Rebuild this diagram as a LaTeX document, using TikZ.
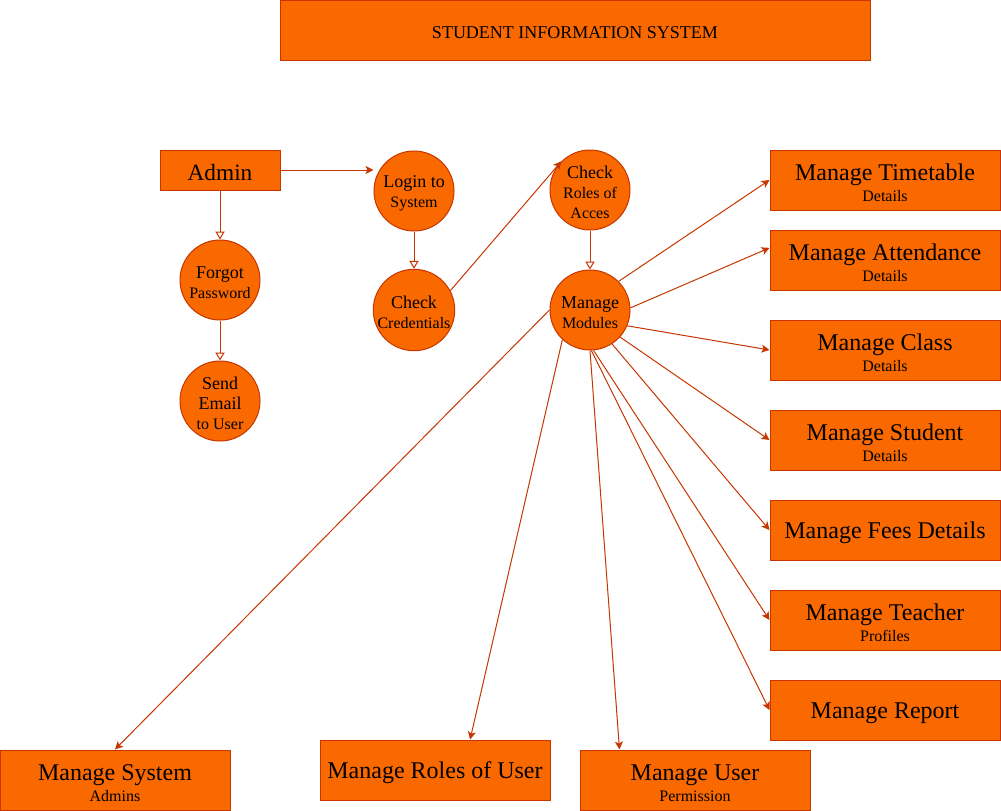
\documentclass[tikz,border=0pt]{standalone}
\usepackage{fontspec}
\setmainfont{Liberation Serif}
\usepackage{tikz}
\usetikzlibrary{arrows.meta}
\definecolor{boxfill}{HTML}{FA6800}
\definecolor{boxline}{HTML}{C73500}
\newcommand{\bigtxt}{\fontsize{18}{15.75}\selectfont}
\newcommand{\subtxt}{\fontsize{12}{14}\selectfont}
\newcommand{\circtxt}{\fontsize{13.5}{15}\selectfont}
\newcommand{\tstrut}{\rule{0pt}{0.92em}}

\begin{document}
\begin{tikzpicture}[x=0.75pt, y=-0.75pt,
    box/.style={draw=boxline, fill=boxfill, line width=0.75pt, inner sep=0pt, align=center},
    mbox/.style={box, minimum width=172.5pt, minimum height=45pt, font=\bigtxt},
    proc/.style={circle, draw=boxline, fill=boxfill, line width=0.75pt, minimum size=60pt, inner sep=0pt, align=center, font=\circtxt},
    edge/.style={draw=boxline, line width=0.75pt, -{Stealth[length=6pt, width=6pt, inset=1.5pt]}},
    openedge/.style={draw=boxline, line width=0.75pt, -{Triangle[open, fill=white, length=6pt, width=7pt]}}]
    \useasboundingbox (0,0) rectangle (1001,811);

    % Title
    \node[box, minimum width=442.5pt, minimum height=45pt, font=\fontsize{13.5}{15}\selectfont] (title) at (575,30) {\tstrut STUDENT INFORMATION SYSTEM};

    % Admin and login steps
    \node[box, minimum width=90pt, minimum height=30pt, font=\fontsize{17.5}{18}\selectfont] (admin) at (220,170) {\tstrut Admin};
    \node[proc] (login) at (414,191) {\tstrut Login to\\{\subtxt System}};
    \node[proc] (cred) at (414,310) {\tstrut Check\\{\subtxt Credentials}};
    \node[proc] (forgot) at (220,280) {\tstrut Forgot\\{\subtxt Password}};
    \node[proc] (send) at (220,401) {\tstrut Send\\Email\\{\subtxt to User}};
    \node[proc] (roles) at (590,190) {\tstrut Check\\{\subtxt Roles of}\\{\subtxt Acces}};
    \node[proc] (mm) at (590,310) {\tstrut Manage\\{\subtxt Modules}};

    % Module boxes on the right
    \foreach \nm/\y/\a/\b in {tt/180/Manage Timetable/Details, att/260/Manage Attendance/Details,
                              cls/350/Manage Class/Details, stu/440/Manage Student/Details,
                              tch/620/Manage Teacher/Profiles} {
        \node[mbox] (\nm) at (885,\y) {\tstrut\a\\{\subtxt \b}};
    }
    \node[mbox] (fees) at (885,530) {\tstrut Manage Fees Details};
    \node[mbox] (rep) at (885,710) {\tstrut Manage Report};

    % Module boxes at the bottom
    \node[mbox] (msys) at (115,780) {\tstrut Manage System\\{\subtxt Admins}};
    \node[mbox] (ruser) at (435,770) {\tstrut Manage Roles of User};
    \node[mbox] (muser) at (695,780) {\tstrut Manage User\\{\subtxt Permission}};

    % Connectors
    \draw[edge] (admin.east) -- (login.west |- admin.east);
    \draw[openedge] (admin) -- (forgot);
    \draw[openedge] (forgot) -- (send);
    \draw[openedge] (login) -- (cred);
    \draw[edge] (cred.28) -- (roles.135);
    \draw[openedge] (roles) -- (mm);
    \foreach \s/\t in {45/tt.west, 3/att.174, -23/cls.west, -42/stu.west, -57/fees.west,
                       -85/tch.west, -88/rep.west, -90/muser.158, 227/ruser.41, 180/msys.north} {
        \draw[edge] (mm.\s) -- (\t);
    }
\end{tikzpicture}
\end{document}
